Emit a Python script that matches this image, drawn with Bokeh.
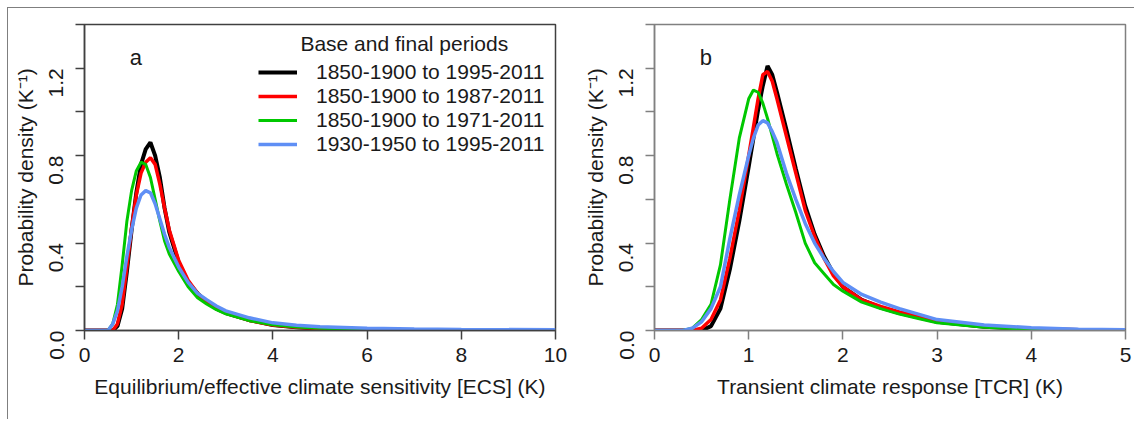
import math
from bokeh.plotting import figure
from bokeh.models import Range1d, FixedTicker, PrintfTickFormatter, Legend, LegendItem, Label
from bokeh.layouts import row
from bokeh.embed import file_html
from bokeh.resources import INLINE

# ---------------- data ----------------
series_labels = ["1850-1900 to 1995-2011", "1850-1900 to 1987-2011",
                 "1850-1900 to 1971-2011", "1930-1950 to 1995-2011"]
series_colors = ["#000000", "#ff0000", "#00c800", "#5f8ff5"]
series_widths = [4, 3.5, 3, 3.5]

ecs_x = [0, 0.5, 0.6, 0.7, 0.8, 0.9, 1.0, 1.1, 1.2, 1.3, 1.4, 1.5, 1.6, 1.7, 1.8,
         2.0, 2.2, 2.4, 2.6, 2.8, 3.0, 3.5, 4.0, 4.5, 5.0, 6.0, 7.0, 8.0, 10.0]
ecs_black = [0, 0, 0, 0.02, 0.10, 0.27, 0.46, 0.63, 0.76, 0.83, 0.86, 0.80, 0.70, 0.56, 0.45,
             0.31, 0.22, 0.17, 0.13, 0.10, 0.08, 0.048, 0.025, 0.015, 0.009, 0.004, 0.002, 0.001, 0]
ecs_red = [0, 0, 0, 0.03, 0.12, 0.29, 0.47, 0.62, 0.72, 0.77, 0.79, 0.76, 0.67, 0.56, 0.46,
           0.32, 0.23, 0.17, 0.13, 0.10, 0.08, 0.046, 0.025, 0.015, 0.009, 0.004, 0.002, 0.001, 0]
ecs_green = [0, 0, 0.03, 0.12, 0.30, 0.50, 0.64, 0.73, 0.77, 0.76, 0.70, 0.60, 0.50, 0.41, 0.35,
             0.27, 0.20, 0.15, 0.12, 0.095, 0.076, 0.045, 0.026, 0.016, 0.010, 0.005, 0.003, 0.001, 0]
ecs_blue = [0, 0, 0.03, 0.09, 0.20, 0.34, 0.46, 0.56, 0.62, 0.64, 0.63, 0.58, 0.51, 0.44, 0.38,
            0.29, 0.22, 0.17, 0.14, 0.112, 0.09, 0.058, 0.035, 0.024, 0.017, 0.010, 0.007, 0.005, 0.003]

tcr_x = [0, 0.3, 0.4, 0.5, 0.6, 0.7, 0.8, 0.9, 1.0, 1.05, 1.1, 1.15, 1.2, 1.25, 1.3, 1.4, 1.5,
         1.6, 1.7, 1.8, 1.9, 2.0, 2.2, 2.4, 2.6, 2.8, 3.0, 3.5, 4.0, 4.5, 5.0]
tcr_black = [0, 0, 0, 0, 0.02, 0.10, 0.28, 0.50, 0.75, 0.88, 1.01, 1.12, 1.21, 1.17, 1.09, 0.92, 0.74,
             0.57, 0.44, 0.34, 0.26, 0.20, 0.14, 0.105, 0.08, 0.06, 0.04, 0.017, 0.006, 0.002, 0]
tcr_red = [0, 0, 0, 0.01, 0.05, 0.14, 0.33, 0.55, 0.80, 0.93, 1.06, 1.17, 1.185, 1.14, 1.06, 0.89, 0.72,
           0.55, 0.43, 0.33, 0.25, 0.20, 0.14, 0.11, 0.085, 0.065, 0.04, 0.018, 0.007, 0.003, 0]
tcr_green = [0, 0, 0.01, 0.05, 0.12, 0.30, 0.60, 0.88, 1.06, 1.10, 1.09, 1.04, 0.97, 0.89, 0.81, 0.67, 0.54,
             0.40, 0.31, 0.26, 0.21, 0.18, 0.13, 0.10, 0.075, 0.055, 0.035, 0.015, 0.006, 0.002, 0]
tcr_blue = [0, 0, 0.01, 0.04, 0.10, 0.20, 0.42, 0.62, 0.80, 0.88, 0.94, 0.96, 0.95, 0.91, 0.86, 0.72, 0.60,
            0.49, 0.40, 0.33, 0.27, 0.22, 0.165, 0.13, 0.10, 0.075, 0.05, 0.025, 0.013, 0.006, 0.003]

y_major = [0, 0.4, 0.8, 1.2]
y_minor = [0.2, 0.6, 1.0, 1.4]
ecs_ticks = [0, 2, 4, 6, 8, 10]
tcr_ticks = [0, 1, 2, 3, 4, 5]

FONT = "Liberation Sans"
TXT = "#1a1a1a"
FS = "21px"
H = 420


def make_panel(width, bl, br, x, ys, xmax, xticks, xlabel, letter, letter_x, axis_color):
    p = figure(width=width, height=H, output_backend="svg", toolbar_location=None,
               x_range=Range1d(0, xmax), y_range=Range1d(0, 1.4),
               min_border_left=bl, min_border_right=br, min_border_top=24,
               min_border_bottom=H - 330)
    p.grid.visible = False
    p.border_fill_alpha = 0
    p.background_fill_color = "white"
    p.outline_line_color = axis_color
    p.outline_line_width = 1.5
    renderers = []
    for yv, c, w in zip(ys, series_colors, series_widths):
        renderers.append(p.line(x, yv, line_color=c, line_width=w))
    # axes
    p.xaxis.ticker = FixedTicker(ticks=xticks)
    p.yaxis.ticker = FixedTicker(ticks=y_major, minor_ticks=y_minor)
    p.yaxis.formatter = PrintfTickFormatter(format="%.1f")
    p.yaxis.major_label_orientation = math.pi / 2
    for ax in (p.xaxis[0], p.yaxis[0]):
        ax.axis_line_color = axis_color
        ax.axis_line_width = 1.5
        ax.major_tick_line_color = axis_color
        ax.minor_tick_line_color = axis_color
        ax.major_tick_line_width = 1.5
        ax.minor_tick_line_width = 1.5
        ax.major_tick_in = 0
        ax.major_tick_out = 9
        ax.minor_tick_in = 0
        ax.minor_tick_out = 0
        ax.major_label_text_font = FONT
        ax.major_label_text_font_size = FS
        ax.major_label_text_color = TXT
        ax.axis_label_text_font = FONT
        ax.axis_label_text_font_size = FS
        ax.axis_label_text_font_style = "normal"
        ax.axis_label_text_color = TXT
    p.yaxis.minor_tick_out = 9
    p.xaxis.major_label_standoff = 8
    p.xaxis.axis_label_standoff = 10
    p.yaxis.major_label_standoff = 19
    p.yaxis.axis_label_standoff = 3
    p.xaxis.axis_label = xlabel
    p.yaxis.axis_label = "Probability density (K\u207b\u00b9)"
    p.add_layout(Label(x=letter_x, y=1.25, text=letter, text_font=FONT, text_font_size="22px",
                       text_color=TXT, text_align="center", text_baseline="middle"))
    return p, renderers


p1, r1 = make_panel(568, 84, 13, ecs_x, [ecs_black, ecs_red, ecs_green, ecs_blue], 10, ecs_ticks,
                    "Equilibrium/effective climate sensitivity [ECS] (K)", "a", 1.09, "#404040")
p2, r2 = make_panel(566, 86, 9, tcr_x, [tcr_black, tcr_red, tcr_green, tcr_blue], 5, tcr_ticks,
                    "Transient climate response [TCR] (K)", "b", 0.545, "#808080")

legend = Legend(items=[LegendItem(label=lab, renderers=[r]) for lab, r in zip(series_labels, r1)],
                location=(174, 174), orientation="vertical",
                label_text_font=FONT, label_text_font_size=FS, label_text_color=TXT,
                glyph_width=39, glyph_height=24, label_height=24, spacing=0, padding=0, margin=0,
                label_standoff=19, border_line_alpha=0, background_fill_alpha=0)
p1.add_layout(legend)
p1.add_layout(Label(x=6.79, y=1.313, text="Base and final periods", text_font=FONT,
                    text_font_size=FS, text_color=TXT, text_align="center", text_baseline="middle"))

frame_css = ("linear-gradient(#7f7f7f, #7f7f7f) 7px 7px / 1128px 1px no-repeat, "
             "linear-gradient(#7f7f7f, #7f7f7f) 7px 7px / 1px 412px no-repeat, white")
layout = row(p1, p2, styles={"background": frame_css})

open("out.html", "w").write(file_html(layout, INLINE))
